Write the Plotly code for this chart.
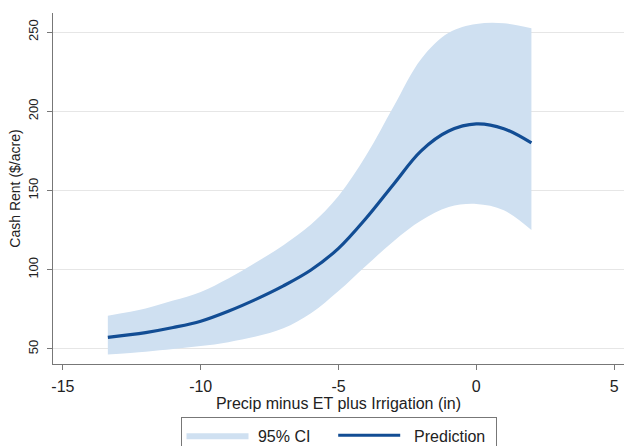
import plotly.graph_objects as go

x_vals = [-13.37, -12, -11, -10, -9, -8, -7, -6, -5, -4, -3, -2, -1, 0, 1, 2]
prediction = [57.3, 60.3, 63.5, 67.5, 73.8, 81.3, 89.8, 99.8, 113.5, 132.5, 154.0, 175.0, 187.5, 192.0, 189.0, 180.0]
ci_upper = [71.0, 75.5, 80.5, 86.0, 94.5, 104.5, 115.5, 128.5, 146.5, 172.0, 203.0, 233.0, 249.5, 255.0, 255.5, 252.3]
ci_lower = [46.5, 48.3, 50.0, 51.8, 54.3, 57.8, 63.0, 72.5, 86.5, 102.5, 118.0, 131.0, 139.5, 141.5, 137.5, 125.0]

x_ticks = [-15, -10, -5, 0, 5]
x_tick_labels = ["-15", "-10", "-5", "0", "5"]
y_ticks = [50, 100, 150, 200, 250]

FONT = "Liberation Sans, Arial, sans-serif"
TXT = "#222222"
BAND = "#cfe0f1"
NB = "\u00a0"

fig = go.Figure()
fig.add_trace(go.Scatter(
    x=x_vals, y=ci_upper,
    mode="lines",
    line=dict(width=0, color=BAND, shape="spline", smoothing=1.0),
    showlegend=False, hoverinfo="skip",
))
fig.add_trace(go.Scatter(
    x=x_vals, y=ci_lower,
    mode="lines",
    fill="tonexty", fillcolor=BAND,
    line=dict(width=0, color=BAND, shape="spline", smoothing=1.0),
    name=NB + "95% CI" + NB * 4, hoverinfo="skip",
))
fig.add_trace(go.Scatter(
    x=x_vals, y=prediction,
    mode="lines",
    line=dict(color="#124d94", width=3.2, shape="spline", smoothing=1.0),
    name=NB * 2 + "Prediction" + NB,
))

fig.update_layout(
    width=633, height=446,
    margin=dict(l=53, r=9, t=13, b=82, autoexpand=False),
    paper_bgcolor="white",
    plot_bgcolor="white",
    font=dict(family=FONT, size=16, color=TXT),
    showlegend=True,
    legend=dict(
        orientation="h",
        x=0.5, xanchor="center",
        y=-0.152, yanchor="top",
        bordercolor="#777777", borderwidth=1,
        bgcolor="white",
        itemwidth=62,
        font=dict(family=FONT, size=16, color=TXT),
        traceorder="normal",
    ),
)
fig.update_xaxes(
    range=[-15.36, 5.36],
    tickvals=x_ticks, ticktext=x_tick_labels,
    ticks="outside", ticklen=5, tickcolor="#777777",
    ticklabelstandoff=3,
    showline=True, linecolor="#777777", linewidth=1,
    showgrid=False, zeroline=False,
    title=dict(text="Precip minus ET plus Irrigation (in)", standoff=0,
               font=dict(family=FONT, size=16, color=TXT)),
    tickfont=dict(family=FONT, size=16, color=TXT),
)
fig.update_yaxes(
    range=[40.5, 262],
    tickvals=y_ticks,
    tickangle=-90,
    ticks="outside", ticklen=5, tickcolor="#777777",
    ticklabelstandoff=4,
    showline=True, linecolor="#777777", linewidth=1,
    showgrid=True, gridcolor="#e6e6e6", gridwidth=1.2,
    zeroline=False,
    title=dict(text="Cash Rent ($/acre)", standoff=1,
               font=dict(family=FONT, size=14, color=TXT)),
    tickfont=dict(family=FONT, size=13, color=TXT),
)

fig.write_html("out.html")
